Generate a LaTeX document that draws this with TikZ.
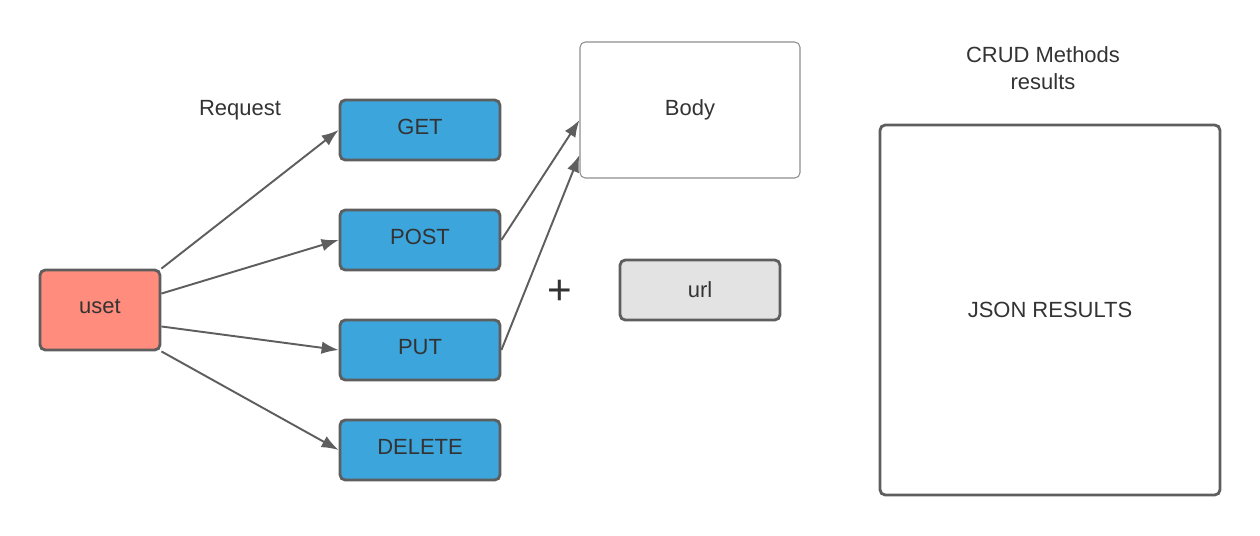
\documentclass[tikz,border=0pt]{standalone}
\usepackage{fontspec}
\setmainfont{Liberation Sans}
\usetikzlibrary{arrows.meta,calc}
\definecolor{methodblue}{HTML}{3BA5DC}
\definecolor{usersalmon}{HTML}{FF8C7C}
\definecolor{edgegray}{HTML}{5E5E5E}
\definecolor{urlgray}{HTML}{E3E3E3}
\definecolor{textgray}{HTML}{333333}
\tikzset{
box/.style={
	  draw=edgegray, line width=1.6pt, rounded corners=3pt,
	    text=textgray, font=\fontsize{12.5}{15}\selectfont},
method/.style={box, fill=methodblue, minimum width=3.2cm, minimum height=1.2cm, text depth=0.12cm},
req/.style={draw=edgegray, line width=1.1pt, -{Latex[length=3.4mm,width=2.5mm]}},
lbl/.style={text=textgray, font=\fontsize{12.5}{15}\selectfont, align=center}
}

\begin{document}
\begin{tikzpicture}
	\useasboundingbox (0,0) rectangle (25.2,-10.7);
	\node[box, fill=usersalmon, minimum width=2.4cm, minimum height=1.6cm, text depth=0.16cm] (uset) at (2,-6.2) {uset};
	\node[method] (get) at (8.4,-2.6) {GET};
	\node[method] (post) at (8.4,-4.8) {POST};
	\node[method] (put) at (8.4,-7) {PUT};
	\node[method] (delete) at (8.4,-9) {DELETE};
	\node[box, draw=edgegray!70, line width=0.6pt, fill=white, minimum width=4.4cm, minimum height=2.72cm] (body) at (13.8,-2.2) {Body};
	\node[box, fill=urlgray, minimum width=3.2cm, minimum height=1.2cm] (url) at (14,-5.8) {url};
	\node[box, fill=white, minimum width=6.8cm, minimum height=7.4cm] (json) at (21,-6.2) {JSON RESULTS};
	\node[lbl] (request) at (4.8,-2.2) {Request};
	\node[lbl] (crud) at (20.86,-1.36) {CRUD Methods\\results};
	\node[text=textgray, font=\fontsize{24}{24}\selectfont] (plus) at (11.2,-5.84) {+};
	% requests
	\draw[req] (uset.north east) -- (get.west);
	\draw[req] (uset.15) -- (post.west);
	\draw[req] (uset.-15) -- (put.west);
	\draw[req] (uset.south east) -- (delete.west);
	% body
	\draw[req] (post.east) -- ($(body.west)+(0,-0.2)$);
	\draw[req] (put.east) -- ($(body.west)+(0,-0.9)$);
\end{tikzpicture}
\end{document}
